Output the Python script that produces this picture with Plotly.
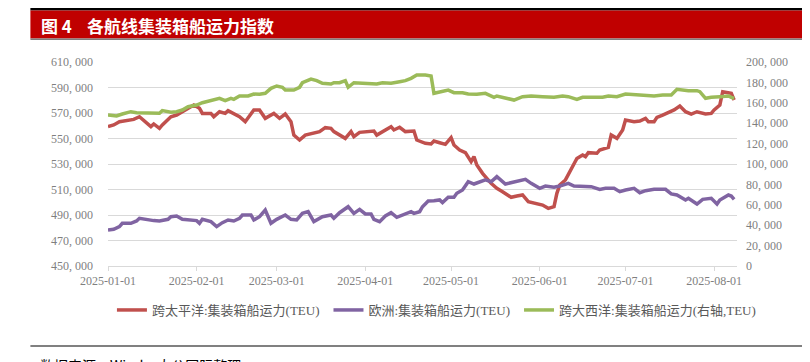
import plotly.graph_objects as go

# ---------------- data ----------------
pac_dates = ["2025-01-01","2025-01-03","2025-01-05","2025-01-08","2025-01-10","2025-01-12","2025-01-14","2025-01-16","2025-01-17","2025-01-19","2025-01-20","2025-01-22","2025-01-23","2025-01-25","2025-01-26","2025-01-28","2025-01-30","2025-01-31","2025-02-02","2025-02-03","2025-02-06","2025-02-07","2025-02-09","2025-02-11","2025-02-12","2025-02-14","2025-02-16","2025-02-18","2025-02-21","2025-02-23","2025-02-25","2025-02-28","2025-03-02","2025-03-04","2025-03-06","2025-03-07","2025-03-09","2025-03-11","2025-03-14","2025-03-16","2025-03-18","2025-03-20","2025-03-21","2025-03-23","2025-03-25","2025-03-27","2025-03-28","2025-03-30","2025-04-01","2025-04-04","2025-04-05","2025-04-07","2025-04-10","2025-04-11","2025-04-13",
             "2025-04-15","2025-04-18","2025-04-19","2025-04-22","2025-04-24","2025-04-25","2025-04-27","2025-04-29","2025-05-01","2025-05-02","2025-05-04","2025-05-06","2025-05-08","2025-05-09","2025-05-10","2025-05-12","2025-05-15","2025-05-17","2025-05-19","2025-05-22","2025-05-24","2025-05-26","2025-05-28","2025-05-31","2025-06-02","2025-06-04","2025-06-06","2025-06-07","2025-06-08","2025-06-10","2025-06-12","2025-06-14","2025-06-16","2025-06-17","2025-06-18","2025-06-21","2025-06-22","2025-06-25","2025-06-26","2025-06-28","2025-06-30","2025-07-01","2025-07-04","2025-07-06","2025-07-08","2025-07-09","2025-07-11","2025-07-12","2025-07-14","2025-07-16","2025-07-18","2025-07-20","2025-07-22","2025-07-24","2025-07-26","2025-07-29","2025-07-31","2025-08-01","2025-08-03","2025-08-04","2025-08-06","2025-08-07","2025-08-08"]
pac_values = [559300,560600,563200,564000,565000,567100,563200,559300,561400,558000,560600,565000,567100,568400,569700,571800,574400,576300,573700,569700,569700,567100,571000,569700,571800,569700,567100,563200,572400,572400,565800,569700,565800,569200,563200,552700,548800,552700,554600,555400,558500,558000,555400,552700,550100,555400,551400,554800,555400,555900,552700,555400,559300,556700,558800,
              555400,555900,548800,546200,545700,548000,546700,545400,550700,544900,541000,538900,531800,535800,529200,522700,514800,510900,508300,503900,504900,505700,500500,498600,497800,495200,496500,507000,513500,517500,525300,534400,537100,535800,538900,538400,541000,543100,552700,550100,556700,564500,563200,563700,565800,563200,563200,566600,568400,570300,572400,575500,571000,569200,571000,569200,569700,572400,576300,586700,585400,585400,580200]

eu_dates = ["2025-01-01","2025-01-03","2025-01-05","2025-01-06","2025-01-09","2025-01-11","2025-01-12","2025-01-15","2025-01-17","2025-01-19","2025-01-22","2025-01-23","2025-01-25","2025-01-27","2025-01-30","2025-02-01","2025-02-02","2025-02-03","2025-02-06","2025-02-08","2025-02-10","2025-02-12","2025-02-14","2025-02-16","2025-02-17","2025-02-20","2025-02-21","2025-02-23","2025-02-25","2025-02-27","2025-03-01","2025-03-04","2025-03-06","2025-03-08","2025-03-10","2025-03-12","2025-03-14","2025-03-17","2025-03-20","2025-03-21","2025-03-23","2025-03-26","2025-03-28","2025-03-30","2025-04-01","2025-04-03","2025-04-04","2025-04-06","2025-04-08","2025-04-10","2025-04-12",
            "2025-04-13","2025-04-15","2025-04-17","2025-04-18","2025-04-20","2025-04-21","2025-04-23","2025-04-25","2025-04-27","2025-04-28","2025-04-30","2025-05-02","2025-05-03","2025-05-05","2025-05-07","2025-05-09","2025-05-12","2025-05-13","2025-05-15","2025-05-17","2025-05-20","2025-05-22","2025-05-24","2025-05-27","2025-05-29","2025-06-01","2025-06-03","2025-06-06","2025-06-08","2025-06-11","2025-06-13","2025-06-17","2025-06-19","2025-06-22","2025-06-24","2025-06-27","2025-06-29","2025-07-01","2025-07-04","2025-07-06","2025-07-08","2025-07-11","2025-07-14","2025-07-15","2025-07-17","2025-07-19","2025-07-22","2025-07-23","2025-07-26","2025-07-28","2025-07-31","2025-08-02","2025-08-03","2025-08-06","2025-08-07","2025-08-08"]
eu_values = [478200,478800,480900,483500,483500,485300,487400,486100,485600,485300,486600,488700,489200,486600,485600,485600,483500,486600,484800,480900,484000,486100,485300,487400,490000,490000,486100,488700,493900,483500,486600,490000,486600,486100,491300,492600,484800,488700,490000,487400,491800,496500,491300,494400,490800,490800,486600,484800,489200,491800,488200,
             489200,491300,492600,491300,492600,496500,501000,501200,501800,499700,503900,503900,507000,509600,516100,514300,516900,517500,516100,520100,514300,515400,516100,518000,514800,510900,512700,511700,512700,514800,512700,512700,512200,510100,510900,510900,508300,509600,510900,507500,509100,510100,509600,510100,506500,505700,501800,503100,498600,502300,503100,498600,501800,505700,504900,502300]

atl_dates = ["2025-01-01","2025-01-04","2025-01-06","2025-01-09","2025-01-11","2025-01-13","2025-01-16","2025-01-19","2025-01-20","2025-01-23","2025-01-25","2025-01-27","2025-01-29","2025-02-01","2025-02-03","2025-02-06","2025-02-09","2025-02-11","2025-02-13","2025-02-14","2025-02-16","2025-02-19","2025-02-21","2025-02-23","2025-02-25","2025-02-27","2025-03-01","2025-03-03","2025-03-04","2025-03-07","2025-03-09","2025-03-10","2025-03-13","2025-03-15","2025-03-17","2025-03-20","2025-03-21","2025-03-23","2025-03-25","2025-03-26","2025-03-28","2025-03-31","2025-04-03","2025-04-05","2025-04-07","2025-04-10","2025-04-13",
             "2025-04-15","2025-04-17","2025-04-19","2025-04-22","2025-04-24","2025-04-25","2025-04-28","2025-04-30","2025-05-02","2025-05-05","2025-05-07","2025-05-10","2025-05-13","2025-05-16","2025-05-17","2025-05-20","2025-05-23","2025-05-26","2025-05-29","2025-06-02","2025-06-06","2025-06-09","2025-06-11","2025-06-14","2025-06-16","2025-06-20","2025-06-23","2025-06-25","2025-06-28","2025-07-01","2025-07-05","2025-07-08","2025-07-11","2025-07-14","2025-07-17","2025-07-19","2025-07-21","2025-07-23","2025-07-26","2025-07-27","2025-07-29","2025-07-31","2025-08-03","2025-08-06","2025-08-07","2025-08-08"]
atl_values = [148000,147100,149000,151300,150300,150300,149700,149700,152300,150700,151300,152900,156200,157800,160100,162700,164400,162100,164400,163400,166700,166700,168600,168300,169300,174200,176500,175200,172500,172500,175200,179700,183300,181700,179100,178400,179700,179700,181700,175200,179700,179100,178400,178400,179700,179100,180700,
              181700,184000,187300,187300,186300,169300,170900,172500,169900,169900,168600,168300,169300,165400,166700,164400,162700,166000,166700,166000,165400,166700,166000,163400,165400,165400,165400,166700,166000,168600,167600,166700,166700,167600,167600,173200,172500,171900,171900,170900,164400,165400,166000,166700,165400,164400]

series_names = ["跨太平洋:集装箱船运力(TEU)", "欧洲:集装箱船运力(TEU)", "跨大西洋:集装箱船运力(右轴,TEU)"]
series_colors = ["#C0504D", "#8064A2", "#9BBB59"]

left_tickvals = [450000, 470000, 490000, 510000, 530000, 550000, 570000, 590000, 610000]
left_ticktext = ["450, 000", "470, 000", "490, 000", "510, 000", "530, 000", "550, 000", "570, 000", "590, 000", "610, 000"]
right_tickvals = [0, 20000, 40000, 60000, 80000, 100000, 120000, 140000, 160000, 180000, 200000]
right_ticktext = ["0", "20, 000", "40, 000", "60, 000", "80, 000", "100, 000", "120, 000", "140, 000", "160, 000", "180, 000", "200, 000"]
x_tickvals = ["2025-01-01", "2025-02-01", "2025-03-01", "2025-04-01", "2025-05-01", "2025-06-01", "2025-07-01", "2025-08-01"]

title_label = "图 4"
title_text = "各航线集装箱船运力指数"
source_text = "数据来源：Wind，大公国际整理"

# ---------------- figure ----------------
# the page puts the figure 8 px in from the top-left corner; positions below are page pixels
OFF = 8
W, H = 810 - OFF, 362 - OFF
PL, PR, PT, PB = 107.7, 737.5, 62, 266       # plot area in page pixels
ML, MR, MT, MB = PL - OFF, W - (PR - OFF), PT - OFF, H - (PB - OFF)
PW, PH = W - ML - MR, H - MT - MB

def px(x):
    return (x - OFF - ML) / PW

def py(y):
    return (H - MB - (y - OFF)) / PH

fig = go.Figure()
fig.add_trace(go.Scatter(x=pac_dates, y=pac_values, name=series_names[0], mode="lines",
                         line=dict(color=series_colors[0], width=3.5), yaxis="y"))
fig.add_trace(go.Scatter(x=eu_dates, y=eu_values, name=series_names[1], mode="lines",
                         line=dict(color=series_colors[1], width=3.5), yaxis="y"))
fig.add_trace(go.Scatter(x=atl_dates, y=atl_values, name=series_names[2], mode="lines",
                         line=dict(color=series_colors[2], width=3.5), yaxis="y2"))

tickfont = dict(family="Liberation Serif, Noto Sans CJK SC", size=12, color="#7F7F7F")

fig.update_layout(
    width=W, height=H,
    margin=dict(l=ML, r=MR, t=MT, b=MB, autoexpand=False),
    paper_bgcolor="white", plot_bgcolor="white",
    showlegend=True,
    legend=dict(orientation="h", x=-0.0001, xanchor="left", y=py(295), yanchor="top",
                font=dict(family="Liberation Serif, Noto Sans CJK SC", size=13, color="#595959"),
                itemwidth=30, tracegroupgap=0, indentation=4, bgcolor="rgba(0,0,0,0)"),
    xaxis=dict(type="date", range=["2025-01-01", "2025-08-09"],
               tickvals=x_tickvals, ticktext=x_tickvals,
               showgrid=False, showline=True, linecolor="#D9D9D9", linewidth=1,
               ticks="outside", ticklen=4, tickcolor="#D9D9D9",
               tickfont=tickfont, zeroline=False, fixedrange=True),
    yaxis=dict(range=[450000, 610000], tickvals=left_tickvals, ticktext=left_ticktext,
               showgrid=True, gridcolor="#D9D9D9", gridwidth=1, zeroline=False,
               showline=False, ticks="", tickfont=tickfont, ticklabelstandoff=14),
    yaxis2=dict(range=[0, 200000], tickvals=right_tickvals, ticktext=right_ticktext,
                overlaying="y", side="right", showgrid=False, zeroline=False,
                showline=False, ticks="", tickfont=tickfont, ticklabelstandoff=8),
    shapes=[
        dict(type="rect", xref="paper", yref="paper", x0=px(30), x1=px(812), y0=py(8), y1=py(10.5),
             fillcolor="#000000", line=dict(width=0), layer="above"),
        dict(type="rect", xref="paper", yref="paper", x0=px(30), x1=px(812), y0=py(10.5), y1=py(38.5),
             fillcolor="#C00000", line=dict(width=0), layer="above"),
        dict(type="rect", xref="paper", yref="paper", x0=px(30), x1=px(812), y0=py(38.5), y1=py(40),
             fillcolor="#7F7F7F", line=dict(width=0), layer="above"),
        dict(type="rect", xref="paper", yref="paper", x0=px(30), x1=px(812), y0=py(345), y1=py(347),
             fillcolor="#808080", line=dict(width=0), layer="above"),
    ],
    annotations=[
        dict(text="<b>" + title_label + "</b>", xref="paper", yref="paper", x=px(39), y=py(26),
             xanchor="left", yanchor="middle", showarrow=False,
             font=dict(family="Noto Sans CJK SC", size=17, color="white")),
        dict(text="<b>" + title_text + "</b>", xref="paper", yref="paper", x=px(85), y=py(26),
             xanchor="left", yanchor="middle", showarrow=False,
             font=dict(family="Noto Sans CJK SC", size=17, color="white")),
        dict(text=source_text, xref="paper", yref="paper", x=px(38), y=py(353),
             xanchor="left", yanchor="top", showarrow=False,
             font=dict(family="Noto Sans CJK SC", size=14, color="#000000")),
    ],
)

fig.write_html("out.html")
